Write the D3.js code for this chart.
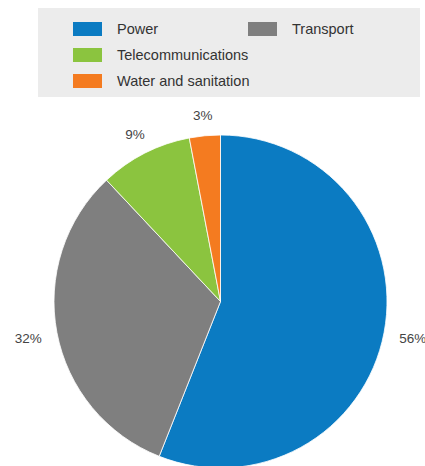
<!DOCTYPE html>
<html>
<head>
<meta charset="utf-8">
<script src="https://cdn.jsdelivr.net/npm/d3@7/dist/d3.min.js"></script>
<style>
	body { margin: 0; background: #fff; }
	text { font-family: "Liberation Sans", Arial, sans-serif; }
</style>
</head>
<body>
<div id="chart"></div>
<script>
var sectors = ["Power", "Transport", "Telecommunications", "Water and sanitation"];
var shares = [56, 32, 9, 3];
var colors = ["#0b7bc2", "#7f7f7f", "#8bc43f", "#f47b20"];

var width = 425, height = 466;
var cx = 220.5, cy = 301.5, radius = 166.5;

var svg = d3.select("#chart").append("svg")
		.attr("width", width)
		.attr("height", height);

// Legend
var legend = svg.append("g").attr("class", "legend");
legend.append("rect")
		.attr("x", 38)
		.attr("y", 8)
		.attr("width", 382)
		.attr("height", 89)
		.style("fill", "#ececec");

// Power and Transport share the first row, the rest stack below
var legendCol = [0, 1, 0, 0],
		legendRow = [0, 0, 1, 2];

var item = legend.selectAll(".item")
		.data(sectors)
	.enter().append("g")
		.attr("class", "item")
		.attr("transform", function(d, i) {
			return "translate(" + (73 + legendCol[i] * 175) + "," + (22 + legendRow[i] * 26) + ")";
		});

item.append("rect")
		.attr("width", 29)
		.attr("height", 14)
		.style("fill", function(d, i) { return colors[i]; });

item.append("text")
		.attr("x", 44)
		.attr("y", 12)
		.style("font-size", "14.5px")
		.style("fill", "#333")
		.text(function(d) { return d; });

// Pie
var pie = d3.pie().sort(null).value(function(d) { return d; });
var arc = d3.arc().innerRadius(0).outerRadius(radius);
var arcs = pie(shares);

var g = svg.append("g").attr("transform", "translate(" + cx + "," + cy + ")");

g.selectAll(".slice")
		.data(arcs)
	.enter().append("path")
		.attr("class", "slice")
		.attr("d", arc)
		.style("fill", function(d, i) { return colors[i]; })
		.style("stroke", "#fff")
		.style("stroke-width", 0.8);

// Outside-end labels
var labelW = function(d) { return d.data >= 10 ? 28 : 17; },
		labelH = 12,
		gap = 15;

g.selectAll(".label")
		.data(arcs)
	.enter().append("text")
		.attr("class", "label")
		.attr("text-anchor", "middle")
		.attr("dy", "0.35em")
		.style("font-size", "13.5px")
		.style("fill", "#444")
		.attr("transform", function(d) {
			var a = (d.startAngle + d.endAngle) / 2,
					s = Math.sin(a), c = Math.cos(a);
			var off = Math.min(labelW(d) / 2 / Math.max(Math.abs(s), 1e-6), labelH / 2 / Math.max(Math.abs(c), 1e-6));
			var dist = radius + gap + off;
			return "translate(" + (dist * s) + "," + (-dist * c) + ")";
		})
		.text(function(d) { return d.data + "%"; });
</script>
</body>
</html>
